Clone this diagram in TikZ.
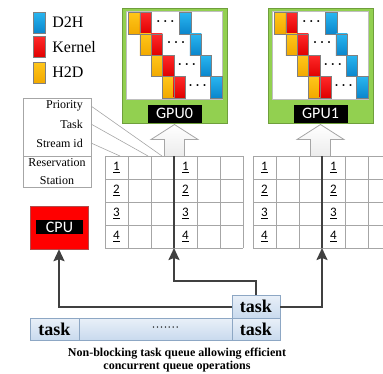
\documentclass[tikz,border=0pt]{standalone}
\usepackage{fontspec}
\setmainfont{Liberation Serif}
\newfontfamily\calfont{Carlito}
\usetikzlibrary{positioning}
\usetikzlibrary{arrows.meta}
\usetikzlibrary{calc}

\definecolor{d2htop}{HTML}{29B6F0}
\definecolor{d2hbot}{HTML}{0B86CC}
\definecolor{kertop}{HTML}{FF2A2A}
\definecolor{kerbot}{HTML}{E00000}
\definecolor{h2dtop}{HTML}{FFC61A}
\definecolor{h2dbot}{HTML}{F2A900}
\definecolor{gpugreen}{HTML}{92D050}
\definecolor{gpuedge}{HTML}{6F9F3C}
\definecolor{cellTop}{HTML}{E9F0F8}
\definecolor{cellBot}{HTML}{C9DAEE}
\definecolor{cellEdge}{HTML}{8DA7C4}
\definecolor{darkline}{HTML}{404040}
\definecolor{gridgray}{HTML}{A6A6A6}

\begin{document}
\begin{tikzpicture}[x=1pt, y=-1pt,
    d2h/.style={top color=d2htop, bottom color=d2hbot},
    kernel/.style={top color=kertop, bottom color=kerbot},
    h2d/.style={top color=h2dtop, bottom color=h2dbot},
    legbox/.style={draw=gray, minimum width=12, minimum height=21, inner sep=0},
    legtext/.style={font=\fontsize{16}{17}\selectfont, inner sep=0},
    gpuframe/.style={draw=gpuedge, fill=gpugreen, line width=1, minimum width=105, minimum height=115},
    gpulabel/.style={fill=black, text=white, font=\calfont\fontsize{16}{16}\selectfont, minimum width=54, minimum height=18, inner sep=0},
    gpudots/.style={font=\bfseries\fontsize{12}{12}\selectfont, inner sep=0},
    resline/.style={draw=gray!70, line width=0.6},
    fieldtext/.style={font=\fontsize{12}{12}\selectfont, anchor=east, inner xsep=8, inner ysep=0},
    gridline/.style={draw=gridgray, line width=0.8},
    slotnum/.style={font=\calfont\fontsize{13}{13}\selectfont, inner sep=0},
    busline/.style={draw=darkline, line width=2.4},
    conn/.style={draw=darkline, line width=2, -{Stealth[length=12pt, width=11pt, inset=2pt]}},
    qcell/.style={draw=cellEdge, top color=cellTop, bottom color=cellBot, font=\bfseries\fontsize{18}{18}\selectfont, minimum height=22, inner sep=0},
    cpubox/.style={fill=red, draw=gray!60!red, minimum width=58, minimum height=43},
    hollow/.style={draw=gridgray, top color=white, bottom color=gray!15, line width=0.8},
    caption/.style={font=\bfseries\fontsize{12}{13.5}\selectfont, align=center},
  ]
  \useasboundingbox (0,0) rectangle (383,373);

  % legend
  \node[legbox, d2h]    (keyd2h)    at (39,22.5) {};
  \node[legbox, kernel] (keykernel) at (39,47)   {};
  \node[legbox, h2d]    (keyh2d)    at (39,72.5) {};
  \node[legtext, right=7pt of keyd2h]    (txtd2h)    {D2H};
  \node[legtext, right=7pt of keykernel] (txtkernel) {Kernel};
  \node[legtext, right=7pt of keyh2d]    (txth2d)    {H2D};

  % GPUs
  \node[gpuframe] (gpu0) at (174.5,65.5) {};
  \node[gpuframe] (gpu1) at (320.5,65.5) {};
  \foreach \g/\txt in {gpu0/GPU0, gpu1/GPU1} {
    \begin{scope}[shift={(\g.north west)}]
      \draw[fill=white, draw=gray!50] (5,4) rectangle (101,92);
      \foreach \i in {0,...,3} {
        \draw[h2d, draw=gray]    ({7+11.3*\i},{5+21.3*\i}) rectangle ++(11.3,21.3);
        \draw[kernel, draw=gray] ({18.3+11.3*\i},{5+21.3*\i}) rectangle ++(11.3,21.3);
        \draw[d2h, draw=gray]    ({58+10.3*\i},{5+21.3*\i}) rectangle ++(11.5,21.3);
        \node[gpudots] (\g dots\i) at ({43.8+10.8*\i},{15.5+21.3*\i}) {· · ·};
      }
    \end{scope}
    \node[gpulabel] (\g lbl) at ($(\g.south)+(0,-10)$) {\txt};
    \draw[hollow] ($(\g.south)+(0,1)$) -- ++(23.5,15) -- ++(-13.5,0) -- ++(0,17)
      -- ++(-20,0) -- ++(0,-17) -- ++(-13.5,0) -- cycle;
  }

  % reservation station
  \draw[resline] (23,98) rectangle (91,187);
  \draw[resline] (23,156) -- (91,156);
  \node[fieldtext] (fprio)   at (91,106) {Priority};
  \node[fieldtext] (ftask)   at (91,124) {Task};
  \node[fieldtext] (fstream) at (91,143) {Stream id};
  \node[font=\fontsize{12}{18}\selectfont, align=center, inner sep=0] (resname) at (57,172) {Reservation\\Station};
  \coordinate (pend) at (162,156);
  \coordinate (tend) at (148,156);
  \coordinate (send) at (120,156);
  \draw[resline] (fprio.east) -- (pend);
  \draw[resline] (ftask.east) -- (tend);
  \draw[resline] (fstream.east) -- (send);

  % tables
  \foreach \x in {105,128,...,243} \draw[gridline] (\x,156) -- (\x,248);
  \foreach \y in {156,179,...,248} \draw[gridline] (105,\y) -- (243,\y);
  \foreach \x in {253,276,...,368} \draw[gridline] (\x,156) -- (\x,248);
  \foreach \y in {156,179,...,248} \draw[gridline] (253,\y) -- (383,\y);
  \foreach \n in {1,...,4}
    \foreach \cx/\tag in {116.5/a, 185.5/b, 264.5/c, 333.5/d}
      \node[slotnum] (slot\tag\n) at (\cx,{144.5+23*\n}) {\underline{\n}};
  \coordinate (t0top) at (174,156);
  \coordinate (t0bot) at (174,248);
  \coordinate (t1top) at (322,156);
  \coordinate (t1bot) at (322,248);
  \draw[busline] (t0top) -- (t0bot);
  \draw[busline] (t1top) -- (t1bot);

  % CPU
  \node[cpubox] (cpu) at (59,227.5) {};
  \node[gpulabel, minimum width=47, minimum height=14] (cpulbl) at (59.5,227) {CPU};

  % task queue
  \node[qcell, minimum width=49] (qleft) at (54.5,329) {task};
  \node[qcell, minimum width=153, font=\fontsize{12}{12}\selectfont] (qmid) at (155.5,329) {\hspace{20pt}·······};
  \node[qcell, minimum width=48] (qright) at (256,329) {task};
  \node[qcell, minimum width=48, minimum height=23] (qhead) at (256,306.5) {task};

  \coordinate (bend) at (174,281);
  \draw[conn] (qhead.west) -| (cpu.south);
  \draw[conn] (qhead.north) |- (bend) -- (t0bot);
  \draw[conn] (qhead.east) -| (t1bot);

  \node[caption] (caption) at (177,360) {Non-blocking task queue allowing efficient\\concurrent queue operations};
\end{tikzpicture}
\end{document}
